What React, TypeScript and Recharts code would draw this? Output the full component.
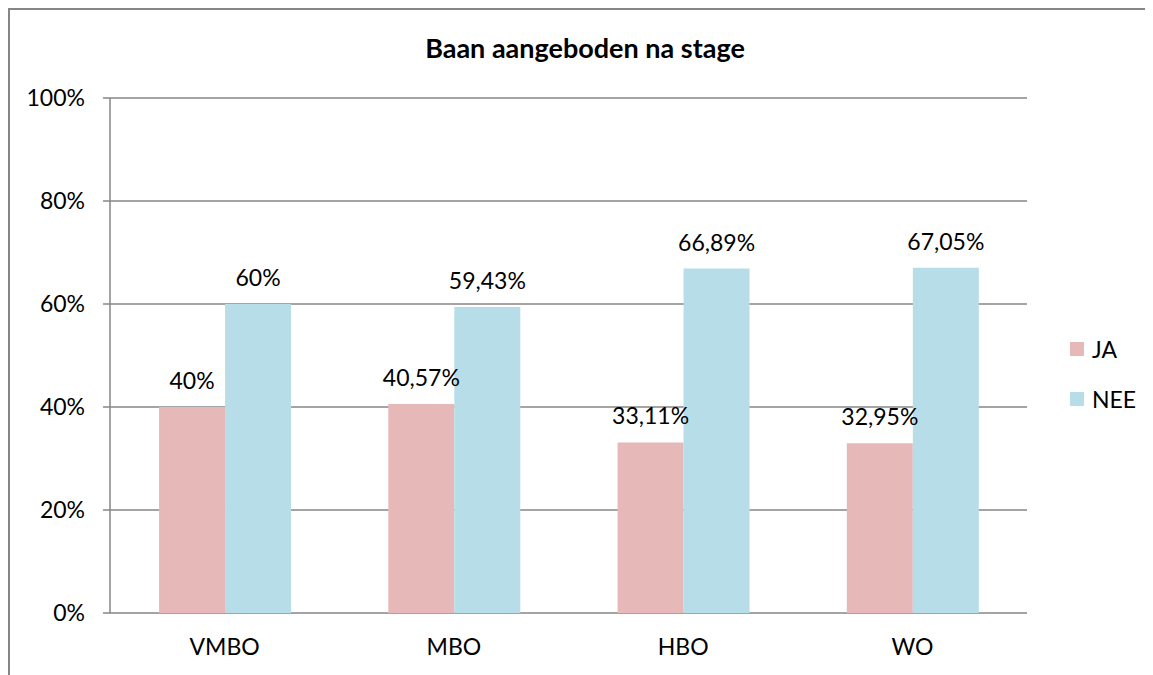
import React from 'react';
import { BarChart, Bar, XAxis, YAxis, CartesianGrid, Legend, LabelList } from 'recharts';

const categories = ['VMBO', 'MBO', 'HBO', 'WO'];
const jaValues = [40, 40.57, 33.11, 32.95];
const neeValues = [60, 59.43, 66.89, 67.05];
const yTicks = [0, 20, 40, 60, 80, 100];
const edgeTicks = [0, 1, 2, 3, 4];

const JA_COLOR = '#E6B9B8';
const NEE_COLOR = '#B7DEE8';
const LINE = '#868686';
const FONT = 'Lato, "Open Sans", sans-serif';

const data = categories.map((name, i) => ({ name, JA: jaValues[i], NEE: neeValues[i] }));

const pct = (v: any) => `${String(v).replace('.', ',')}%`;

const legendItems = [
  { label: 'JA', color: JA_COLOR },
  { label: 'NEE', color: NEE_COLOR },
];

const LegendBox = () => (
  <div style={{ fontFamily: FONT, fontSize: 23, color: '#000' }}>
    {legendItems.map((it, i) => (
      <div key={it.label} style={{ display: 'flex', alignItems: 'center', height: 26, marginBottom: i === 0 ? 24 : 0 }}>
        <span style={{ width: 14, height: 14, background: it.color, display: 'inline-block', marginRight: 8 }} />
        <span>{it.label}</span>
      </div>
    ))}
  </div>
);

export default function App() {
  return (
    <div
      style={{
        position: 'relative',
        width: 1143,
        height: 665,
        borderLeft: `2px solid ${LINE}`,
        borderTop: `2px solid ${LINE}`,
        fontFamily: FONT,
      }}
    >
      <div
        style={{
          position: 'absolute',
          top: 21,
          left: 0,
          width: 1150,
          textAlign: 'center',
          fontWeight: 700,
          fontSize: 27,
          color: '#000',
          zIndex: 2,
        }}
      >
        Baan aangeboden na stage
      </div>
      <BarChart
        width={1143}
        height={665}
        data={data}
        margin={{ top: 88, right: 126, bottom: 22, left: 10 }}
        barCategoryGap="21.4%"
        barGap={0}
      >
        <CartesianGrid vertical={false} stroke={LINE} strokeWidth={1.3} />
        <XAxis
          xAxisId="edge"
          type="number"
          domain={[0, 4]}
          ticks={edgeTicks}
          height={0}
          tick={false}
          tickSize={7}
          stroke={LINE}
          strokeWidth={1.5}
        />
        <XAxis
          dataKey="name"
          height={40}
          axisLine={false}
          tickLine={false}
          tickSize={0}
          tickMargin={26}
          tick={{ fill: '#000', fontSize: 23, fontFamily: FONT }}
        />
        <YAxis
          width={90}
          domain={[0, 100]}
          ticks={yTicks}
          tickFormatter={(v) => `${v}%`}
          tickSize={7}
          tickMargin={18}
          stroke={LINE}
          strokeWidth={1.5}
          tick={{ fill: '#000', fontSize: 23, fontFamily: FONT }}
        />
        <Legend
          layout="vertical"
          align="center"
          verticalAlign="middle"
          wrapperStyle={{ left: 1060, top: 326, width: 80 }}
          content={() => <LegendBox />}
        />
        <Bar dataKey="JA" fill={JA_COLOR} isAnimationActive={false}>
          <LabelList dataKey="JA" position="top" offset={18} formatter={pct} fill="#000" fontSize={23} fontFamily={FONT} />
        </Bar>
        <Bar dataKey="NEE" fill={NEE_COLOR} isAnimationActive={false}>
          <LabelList dataKey="NEE" position="top" offset={18} formatter={pct} fill="#000" fontSize={23} fontFamily={FONT} />
        </Bar>
      </BarChart>
    </div>
  );
}
